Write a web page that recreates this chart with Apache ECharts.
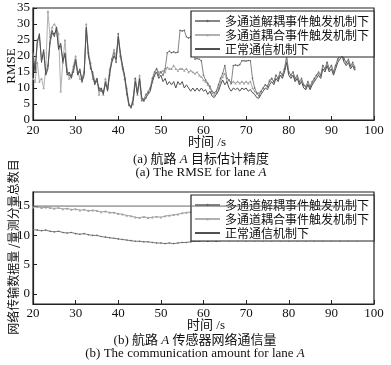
<!DOCTYPE html>
<html><head><meta charset="utf-8">
<script src="https://cdn.jsdelivr.net/npm/echarts@6/dist/echarts.min.js"></script>
<style>html,body{margin:0;padding:0;background:#fff}#c{width:391px;height:365px}</style>
</head><body><div id="c"></div>
<script>
const seriesNames = ['多通道解耦事件触发机制下', '多通道耦合事件触发机制下', '正常通信机制下'];
const xTickValues = [20, 30, 40, 50, 60, 70, 80, 90, 100];
const rmseTicks = [0, 5, 10, 15, 20, 25, 30, 35];
const commTicks = [0, 5, 10, 15];

// (a) RMSE, sampled every 0.5 s from t = 20 s
const rmseStart = 20, rmseStep = 0.5;
const rmseDecoupled = [
  21, 16, 25, 26, 19, 21, 15, 17, 24, 27,
  27, 28, 23, 23, 19, 20, 15, 14, 14, 15,
  18, 15, 15, 13, 15, 28, 21, 16, 15, 12,
  12, 10, 9, 9, 11, 10, 14, 19, 21, 18,
  27, 20, 16, 13, 8, 4.5, 4, 7, 13, 9,
  12, 6, 6.5, 8, 8.5, 10, 13, 15, 16, 14,
  15, 14, 16, 21, 21.5, 21, 21.3, 21, 21.2, 28,
  27.8, 28, 26, 25.6, 26, 25.5, 19, 19.2, 19, 18.5,
  14, 12.5, 11.5, 10.5, 9, 8.5, 9, 11, 13, 14.5,
  17, 13, 12.5, 11.5, 17, 17.2, 17, 17.3, 18.5, 18.5,
  18.4, 18.6, 18.5, 13, 10, 8.5, 7.5, 9, 10, 11,
  10.5, 12, 13, 12, 14, 13, 15, 14, 16, 20,
  15, 14, 15, 13, 14, 12, 13, 11, 10.5, 12,
  10.5, 12, 13, 14, 15, 14, 17, 16, 18, 16,
  17, 15, 17, 19, 20, 21, 19, 18, 19, 17,
  18, 16.5
];
const rmseCoupled = [
  13, 12, 18, 12, 13, 10, 16, 34, 26, 29,
  30, 29, 27, 9, 18, 25, 16, 13, 14, 17,
  20, 15, 13, 12, 15, 30, 21, 18, 13, 12,
  13, 8, 10, 8, 13, 10, 16, 19, 22, 20,
  25, 20, 17, 13, 10, 5, 4, 5, 13, 8,
  14, 7, 6, 7, 9, 10, 12, 14, 16, 15,
  15, 15.5, 15, 16.5, 16, 16, 17, 16, 15.5, 16,
  16, 15.5, 16, 15, 15.5, 15, 14.5, 15, 14, 13.5,
  12.5, 12, 11, 10, 8.5, 8, 8.5, 10, 12, 13.5,
  14.5, 12, 12.5, 11.5, 12, 11.5, 12, 11.5, 12, 11.5,
  12, 11.5, 12, 10, 9, 8.3, 8.5, 9, 10, 11,
  10.5, 12.5, 13, 12, 14, 13, 15, 14, 16, 19,
  15, 14, 15, 12.5, 13.5, 11.5, 12.5, 11, 10, 11.5,
  10, 11.5, 12.5, 14, 14.5, 14, 17, 16, 18, 16,
  17, 15, 17, 19, 20, 21, 19, 18, 18.5, 17,
  17.5, 16
];
const rmseNormal = [
  20, 15, 24, 27, 18, 22, 14, 16, 25, 28,
  26, 29, 22, 24, 18, 21, 14, 15, 13, 16,
  19, 14, 16, 12, 14, 29, 20, 17, 14, 11,
  13, 9, 10, 8, 12, 9, 15, 18, 20, 19,
  26, 21, 17, 14, 9, 5, 4, 6, 12, 8,
  13, 7, 6, 7, 8, 9, 12, 14, 15, 13,
  14, 12, 13, 11, 12, 11, 12, 10, 12, 11,
  12, 10, 11, 10, 9, 10, 9, 10, 9, 10,
  9, 9.5, 8, 9, 7.5, 7, 8, 9, 11, 12.5,
  11, 12, 10, 9, 10, 9.5, 10, 9, 10, 9.5,
  10, 9, 9.5, 8.5, 8, 7, 6.8, 8, 9, 10,
  9.5, 11, 12, 11, 13, 12, 14, 13, 15, 18,
  14, 13, 14, 12, 13, 11, 12, 10, 9.5, 11,
  9.5, 11, 12, 13, 14, 13, 16, 15, 17, 15,
  16, 14, 16, 18, 19, 20, 18, 17, 18, 16,
  17, 15.5
];

// (b) communication amount, sampled every 1 s from t = 20 s
const commStart = 20, commStep = 1;
const commDecoupled = [
  11.0, 10.9, 10.8, 10.9, 10.7, 10.6, 10.7, 10.5, 10.4, 10.5,
  10.3, 10.2, 10.3, 10.1, 10.0, 10.0, 9.8, 9.7, 9.6, 9.5,
  9.4, 9.3, 9.2, 9.1, 9.0, 9.0, 8.9, 8.9, 8.8, 8.7,
  8.7, 8.6, 8.7, 8.6, 8.7, 8.8, 8.8, 8.9, 9.0, 9.0,
  9.1, 9.0, 9.1, 9.0, 9.1, 9.2, 9.1, 9.2, 9.1, 9.2,
  9.1, 9.2, 9.1, 9.2, 9.1, 9.2, 9.1, 9.2, 9.1, 9.2,
  9.1, 9.2, 9.1, 9.2, 9.1, 9.2, 9.1, 9.2, 9.1, 9.2,
  9.1, 9.2, 9.1, 9.2, 9.1, 9.2, 9.1
];
const commCoupled = [
  14.8, 14.9, 14.7, 14.8, 14.7, 14.6, 14.7, 14.5, 14.6, 14.4,
  14.5, 14.3, 14.4, 14.2, 14.3, 14.2, 14.0, 14.1, 13.9, 13.9,
  13.7, 13.6, 13.4, 13.3, 13.1, 13.0, 13.2, 13.0, 13.1, 13.2,
  13.1, 13.3, 13.4, 13.5, 13.6, 13.8, 13.9, 14.0, 14.1, 14.2,
  14.2, 14.3, 14.2, 14.4, 14.3, 14.4, 14.3, 14.4, 14.5, 14.4,
  14.4, 14.5, 14.4, 14.5, 14.4, 14.5, 14.6, 14.5, 14.6, 14.5,
  14.6, 14.5, 14.6, 14.7, 14.6, 14.7, 14.6, 14.7, 14.6, 14.7,
  14.6, 14.7, 14.6, 14.7, 14.6, 14.7, 14.6
];
const commNormalTimes = [20, 96];
const commNormal = [15, 15];

function pairs(start, step, vals) { return vals.map((v, i) => [start + i * step, v]); }

const SERIF = "'Liberation Serif','Noto Sans CJK SC'";
const CJK = "'Noto Sans CJK SC'";
const TXT = '#111';

const chart = echarts.init(document.getElementById('c'), null, { renderer: 'canvas' });

function xAxisFor(gi, margin) {
  return {
    type: 'value', gridIndex: gi, min: 20, max: 100, interval: 10,
    axisLine: { show: true, onZero: false, lineStyle: { color: '#222', width: 1.2 } },
    axisTick: { show: true, inside: true, length: 4, lineStyle: { color: '#222' } },
    axisLabel: { color: TXT, fontFamily: SERIF, fontSize: 13, margin: margin,
      customValues: xTickValues },
    splitLine: { show: false }
  };
}
function legendFor(top) {
  return {
    data: [
      { name: seriesNames[0] },
      { name: seriesNames[1] },
      { name: seriesNames[2], itemStyle: { opacity: 0 } }
    ],
    orient: 'vertical', left: 191, top: top,
    itemWidth: 25, itemHeight: 3, itemGap: 0,
    padding: [3, 5, 1, 3],
    backgroundColor: '#fff', borderColor: '#222', borderWidth: 1.2,
    textStyle: { fontFamily: CJK, fontSize: 12, color: TXT, lineHeight: 14 },
    selectedMode: false
  };
}
const lineStyles = [
  { color: '#858585', sym: 'circle', size: 1.6, symColor: '#666' },
  { color: '#b0b0b0', sym: 'triangle', size: 2.5, symColor: '#a0a0a0' },
  { color: '#505050', sym: 'none', size: 0, symColor: '#505050' }
];
function mkSeries(name, idx, gi, data, colorOverride) {
  const s = lineStyles[idx];
  const col = colorOverride || s.color;
  return {
    name: name, type: 'line', xAxisIndex: gi, yAxisIndex: gi, data: data,
    symbol: s.sym, symbolSize: s.size, showSymbol: s.sym !== 'none', showAllSymbol: true,
    lineStyle: { color: col, width: 1 },
    itemStyle: { color: s.symColor },
    color: col, animation: false, silent: true, z: 2 + (idx === 1 ? 0 : (idx === 0 ? 1 : 2))
  };
}

const option = {
  backgroundColor: '#fff',
  animation: false,
  grid: [
    { left: 33, right: 17, top: 8, height: 112, show: true, borderColor: '#222', borderWidth: 1.2, backgroundColor: 'transparent' },
    { left: 33, right: 17, top: 192, height: 112, show: true, borderColor: '#222', borderWidth: 1.2, backgroundColor: 'transparent' }
  ],
  xAxis: [xAxisFor(0, 4), xAxisFor(1, 3)],
  yAxis: [
    { type: 'value', gridIndex: 0, min: 0, max: 35, interval: 5,
      axisLine: { show: true, lineStyle: { color: '#222', width: 1.2 } },
      axisTick: { show: true, inside: true, length: 4, lineStyle: { color: '#222' } },
      axisLabel: { color: TXT, fontFamily: SERIF, fontSize: 13, margin: 3, customValues: rmseTicks },
      splitLine: { show: false } },
    { type: 'value', gridIndex: 1, min: -1.7, max: 17.4,
      axisLine: { show: true, onZero: false, lineStyle: { color: '#222', width: 1.2 } },
      axisTick: { show: true, inside: true, length: 4, lineStyle: { color: '#222' }, customValues: commTicks },
      axisLabel: { color: TXT, fontFamily: SERIF, fontSize: 13, margin: 3, customValues: commTicks },
      splitLine: { show: false } }
  ],
  legend: [legendFor(11), legendFor(195)],
  series: [
    mkSeries(seriesNames[1], 1, 0, pairs(rmseStart, rmseStep, rmseCoupled)),
    mkSeries(seriesNames[0], 0, 0, pairs(rmseStart, rmseStep, rmseDecoupled)),
    mkSeries(seriesNames[2], 2, 0, pairs(rmseStart, rmseStep, rmseNormal)),
    mkSeries(seriesNames[1], 1, 1, pairs(commStart, commStep, commCoupled), '#a0a0a0'),
    mkSeries(seriesNames[0], 0, 1, pairs(commStart, commStep, commDecoupled), '#7a7a7a'),
    mkSeries(seriesNames[2], 2, 1, commNormalTimes.map((t, i) => [t, commNormal[i]]), '#666')
  ],
  graphic: [
    { type: 'text', x: 12, y: 66, rotation: Math.PI / 2,
      style: { text: 'RMSE', font: "13px " + SERIF, fill: TXT, align: 'center', verticalAlign: 'middle' } },
    { type: 'text', x: 13, y: 247, rotation: Math.PI / 2,
      style: { text: '网络传输数据量 /量测分量总数目', font: "12px " + CJK, fill: TXT, align: 'center', verticalAlign: 'middle' } },
    { type: 'text', x: 207, y: 143,
      style: { text: '时间 /s', font: "13px " + SERIF, fill: TXT, align: 'center', verticalAlign: 'middle' } },
    { type: 'text', x: 206, y: 326,
      style: { text: '时间 /s', font: "13px " + SERIF, fill: TXT, align: 'center', verticalAlign: 'middle' } },
    { type: 'text', x: 201, y: 160,
      style: { text: '{n|(a) 航路 }{i|A}{n| 目标估计精度}', align: 'center', verticalAlign: 'middle',
        rich: { n: { fontFamily: SERIF, fontSize: 13, fill: TXT }, i: { fontFamily: SERIF, fontSize: 13, fontStyle: 'italic', fill: TXT } } } },
    { type: 'text', x: 201, y: 173,
      style: { text: '{n|(a) The RMSE for lane }{i|A}', align: 'center', verticalAlign: 'middle',
        rich: { n: { fontFamily: SERIF, fontSize: 13, fill: TXT }, i: { fontFamily: SERIF, fontSize: 13, fontStyle: 'italic', fill: TXT } } } },
    { type: 'text', x: 195, y: 341,
      style: { text: '{n|(b) 航路 }{i|A}{n| 传感器网络通信量}', align: 'center', verticalAlign: 'middle',
        rich: { n: { fontFamily: SERIF, fontSize: 13, fill: TXT }, i: { fontFamily: SERIF, fontSize: 13, fontStyle: 'italic', fill: TXT } } } },
    { type: 'text', x: 195, y: 354,
      style: { text: '{n|(b) The communication amount for lane }{i|A}', align: 'center', verticalAlign: 'middle',
        rich: { n: { fontFamily: SERIF, fontSize: 13, fill: TXT }, i: { fontFamily: SERIF, fontSize: 13, fontStyle: 'italic', fill: TXT } } } }
  ]
};
chart.setOption(option);
</script>
</body></html>
